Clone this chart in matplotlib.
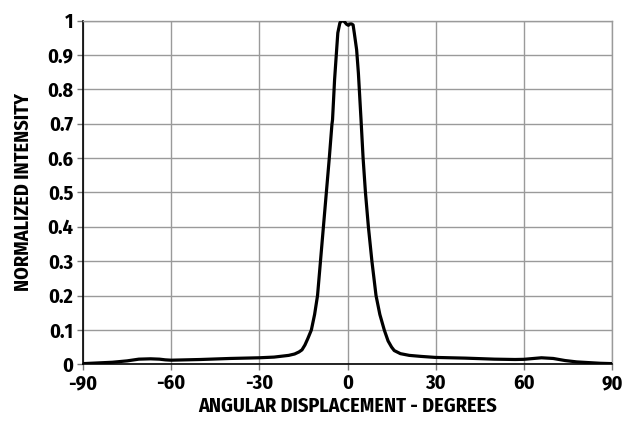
import matplotlib
matplotlib.use("Agg")
import matplotlib.pyplot as plt

angle_deg = [-90, -85, -80, -75, -71, -67, -64, -62, -60, -50, -40, -30, -25, -20,
             -18, -16.5, -15.5, -14.5, -13.5, -12.3, -11.2, -10.2, -9.2, -8.2, -7.2,
             -6.2, -5.3, -5.1, -4.4, -3.7, -3.3, -2.6, -1.9, -1.1, -0.3, 0.3, 0.8, 1.4,
             1.9, 2.3, 3.1, 3.7, 4.6, 5.3, 6.1, 7.1, 8.3, 9.7, 11, 12.5, 13.8, 15, 15.9,
             18, 21, 25, 30, 40, 50, 57, 60, 62, 66, 70, 74, 78, 82, 86, 90]
intensity = [0.002, 0.004, 0.006, 0.010, 0.015, 0.016, 0.015, 0.013, 0.012, 0.014, 0.017,
             0.019, 0.021, 0.026, 0.030, 0.036, 0.042, 0.056, 0.075, 0.10, 0.145, 0.20,
             0.30, 0.40, 0.50, 0.60, 0.698, 0.711, 0.828, 0.915, 0.964, 0.993, 1.0, 0.997,
             0.989, 0.986, 0.99, 0.99, 0.987, 0.964, 0.915, 0.847, 0.711, 0.60, 0.50, 0.40,
             0.30, 0.20, 0.145, 0.10, 0.068, 0.050, 0.040, 0.031, 0.026, 0.023, 0.020,
             0.018, 0.015, 0.014, 0.0145, 0.016, 0.019, 0.017, 0.011, 0.007, 0.005, 0.003,
             0.002]

x_ticks = [-90, -60, -30, 0, 30, 60, 90]
y_ticks = [0, 0.1, 0.2, 0.3, 0.4, 0.5, 0.6, 0.7, 0.8, 0.9, 1]
y_tick_labels = ["0", "0.1", "0.2", "0.3", "0.4", "0.5", "0.6", "0.7", "0.8", "0.9", "1"]
x_label = "ANGULAR DISPLACEMENT - DEGREES"
y_label = "NORMALIZED INTENSITY"

plt.rcParams["font.family"] = ["Fira Sans Condensed", "DejaVu Sans"]
plt.rcParams["font.weight"] = "bold"

fig = plt.figure(figsize=(6.37, 4.22), dpi=100)
ax = fig.add_axes([0.1303, 0.1367, 0.8305, 0.8147])
ax.plot(angle_deg, intensity, color="black", lw=2.3, solid_joinstyle="round", zorder=3)
ax.set_xlim(-90, 90)
ax.set_ylim(0, 1)
ax.set_xticks(x_ticks)
ax.set_xticklabels([str(t) for t in x_ticks])
ax.set_yticks(y_ticks)
ax.set_yticklabels(y_tick_labels)
ax.grid(True, color="#9a9a9a", lw=1.0)
ax.set_axisbelow(True)
for s in ["top", "right"]:
    ax.spines[s].set_color("#9a9a9a")
    ax.spines[s].set_linewidth(1.0)
for s in ["left", "bottom"]:
    ax.spines[s].set_color("black")
    ax.spines[s].set_linewidth(1.2)
ax.tick_params(axis="both", labelsize=14.5, length=4, width=1, color="#777777", pad=3)
for lab in ax.get_xticklabels() + ax.get_yticklabels():
    lab.set_fontweight("bold")
ax.set_xlabel(x_label, fontsize=14.5, fontweight="bold", labelpad=2)
ax.set_ylabel(y_label, fontsize=14.5, fontweight="bold", labelpad=10)
fig.savefig("out.png", dpi=100)
